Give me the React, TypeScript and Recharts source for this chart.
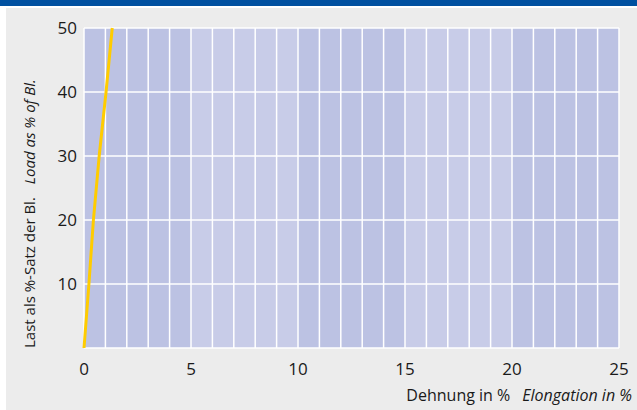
import React from 'react'
import { LineChart, Line, XAxis, YAxis, CartesianGrid, Label } from 'recharts'

// load curve: elongation (%) vs load (% of breaking load)
const elongation = [0, 0.23, 0.44, 0.71, 1.03, 1.32]
const load = [0, 10, 20, 30, 40, 50]

const xTicks = [0, 1, 2, 3, 4, 5, 6, 7, 8, 9, 10, 11, 12, 13, 14, 15, 16, 17, 18, 19, 20, 21, 22, 23, 24, 25]
const xLabelTicks = [0, 5, 10, 15, 20, 25]
const yTicks = [0, 10, 20, 30, 40, 50]

const DARK = '#bcc2e3'
const LIGHT = '#c8cce8'
// one band of five columns dark, next five light
const bandFill = [DARK, DARK, DARK, DARK, DARK, LIGHT, LIGHT, LIGHT, LIGHT, LIGHT]

const data = elongation.map((e, i) => ({ e, load: load[i] }))

const FONT = '"Open Sans", "Noto Sans", sans-serif'

const YTitle = () => (
  <text
    x={35}
    y={348}
    transform="rotate(-90, 35, 348)"
    fontFamily={FONT}
    fontSize={15}
    fill="#1a1a1a"
  >
    <tspan>Last als %-Satz der Bl.</tspan>
    <tspan dx={13} fontStyle="italic">Load as % of Bl.</tspan>
  </text>
)

const XTitle = () => (
  <text x={632} y={401} textAnchor="end" fontFamily={FONT} fontSize={16} fill="#1a1a1a">
    <tspan>Dehnung in %</tspan>
    <tspan dx={12} fontStyle="italic">Elongation in %</tspan>
  </text>
)

export default function App() {
  return (
    <div style={{ position: 'absolute', left: 0, top: 0, width: 637, height: 410, background: '#fff', overflow: 'hidden' }}>
      <div style={{ position: 'absolute', left: 0, top: 0, width: 637, height: 6, background: '#0050a0' }} />
      <div style={{ position: 'absolute', left: 6, top: 8, width: 631, height: 402, background: '#ececec' }} />
      <div style={{ position: 'absolute', left: 0, top: 0 }}>
        <LineChart width={637} height={410} data={data} margin={{ top: 28, right: 18, left: 0, bottom: 0 }}>
          <CartesianGrid stroke="#ffffff" strokeWidth={1.5} verticalFill={bandFill} fillOpacity={1} />
          <XAxis
            type="number"
            dataKey="e"
            domain={[0, 25]}
            ticks={xTicks}
            interval={0}
            height={62}
            axisLine={false}
            tickLine={false}
            tickSize={0}
            tickMargin={15}
            tickFormatter={(v: number) => (xLabelTicks.includes(v) ? String(v) : '')}
            tick={{ fill: '#1a1a1a', fontSize: 17, fontFamily: FONT }}
          >
            <Label content={<XTitle />} />
          </XAxis>
          <YAxis
            type="number"
            domain={[0, 50]}
            ticks={yTicks}
            width={84}
            axisLine={false}
            tickLine={false}
            tickSize={0}
            tickMargin={7}
            tickFormatter={(v: number) => (v === 0 ? '' : String(v))}
            tick={{ fill: '#1a1a1a', fontSize: 17, fontFamily: FONT }}
          >
            <Label content={<YTitle />} />
          </YAxis>
          <Line
            dataKey="load"
            stroke="#ffcc00"
            strokeWidth={3}
            dot={false}
            isAnimationActive={false}
          />
        </LineChart>
      </div>
    </div>
  )
}
